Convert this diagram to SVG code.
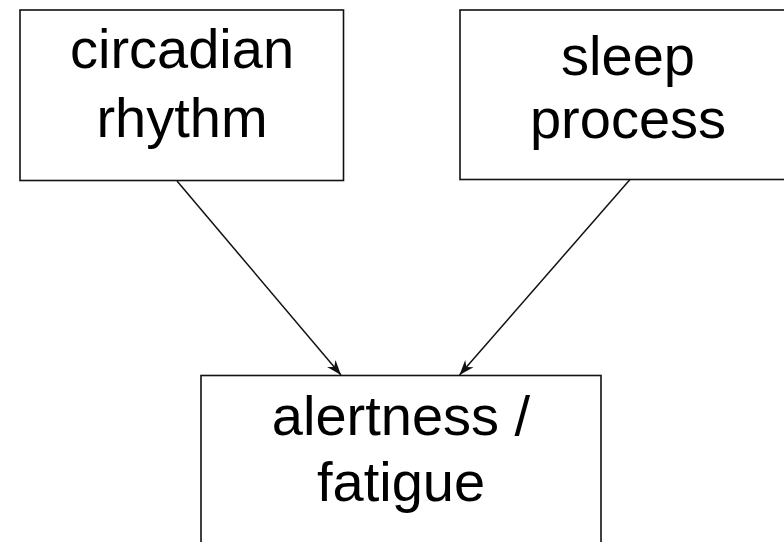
<svg xmlns="http://www.w3.org/2000/svg" width="784" height="542" viewBox="0 0 784 542">
<style>
.box{fill:#fff;stroke:#111;stroke-width:1.6}
.lbl{font-family:"Liberation Sans",Arial,sans-serif;font-size:56px;fill:#000;text-anchor:middle}
.conn{stroke:#111;stroke-width:1.5;fill:none}
</style>
<defs>
<marker id="arr" viewBox="-16 -7 17 14" refX="0" refY="0" markerWidth="17" markerHeight="14" markerUnits="userSpaceOnUse" orient="auto">
<path d="M0,0 L-15,-5.5 L-10.5,0 L-15,5.5 Z" fill="#111"/>
</marker>
</defs>
<rect width="784" height="542" fill="#fff"/>
<g id="connectors">
<line class="conn" x1="177" y1="181" x2="341" y2="375" marker-end="url(#arr)"/>
<line class="conn" x1="630" y1="179.5" x2="459.5" y2="375" marker-end="url(#arr)"/>
</g>
<g id="node-circadian">
<rect class="box" x="20" y="10" width="323.5" height="170.5"/>
<text class="lbl" x="182" y="68">circadian</text>
<text class="lbl" x="182" y="137">rhythm</text>
</g>
<g id="node-sleep">
<rect class="box" x="460" y="10" width="340" height="169.5"/>
<text class="lbl" x="628" y="75">sleep</text>
<text class="lbl" x="628" y="138">process</text>
</g>
<g id="node-alertness">
<rect class="box" x="201" y="375.5" width="400" height="190"/>
<text class="lbl" x="401" y="435">alertness /</text>
<text class="lbl" x="401" y="501">fatigue</text>
</g>
</svg>
